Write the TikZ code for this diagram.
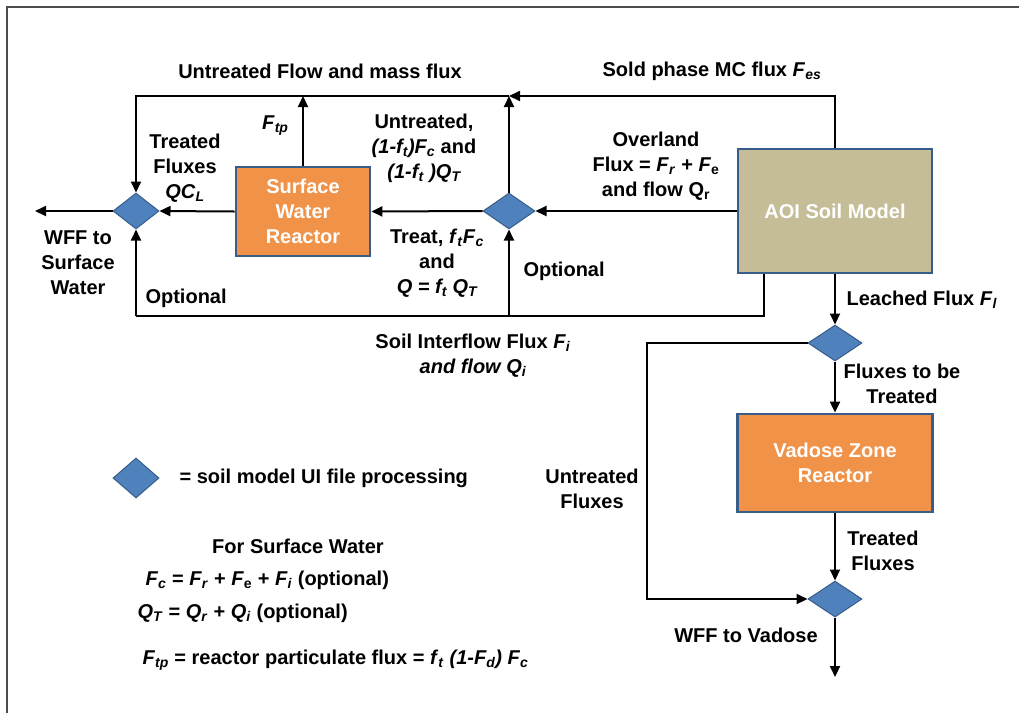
\documentclass[tikz,border=0pt]{standalone}
\usepackage{fontspec}
\setmainfont{Liberation Sans}
\usepackage{xcolor}
\usetikzlibrary{arrows.meta,shapes.geometric,calc}

\definecolor{reactororange}{RGB}{240,146,72}
\definecolor{soiltan}{RGB}{196,189,151}
\definecolor{gateblue}{RGB}{79,129,189}
\definecolor{edgeblue}{RGB}{56,93,138}
\newcommand{\sym}[2]{\textit{#1}\textsubscript{\textit{#2}}}

\begin{document}
\begin{tikzpicture}[x=1pt,y=-1pt,>={Triangle[length=11pt,width=10pt]},
  every node/.style={font=\fontsize{20}{25}\selectfont\bfseries},
  flow/.style={line width=2pt,->},
  pipe/.style={line width=2pt},
  gate/.style={diamond,draw=edgeblue,fill=gateblue,line width=1pt,
    minimum width=46pt,minimum height=36pt,inner sep=0pt},
  reactor/.style={rectangle,draw=edgeblue,fill=reactororange,line width=2.8pt,
    text=white,align=center},
  lbl/.style={align=center}]
  \useasboundingbox (0,0) rectangle (1019,713);
  \draw[gray!60!black,line width=1.5pt] (7,713) -- (7,7) -- (1019,7);

  \node[reactor,minimum width=134pt,minimum height=89pt] (swr) at (303,211.5)
    {Surface\\Water\\Reactor};
  \node[reactor,fill=soiltan,minimum width=194pt,minimum height=124pt] (aoi)
    at (835,211) {AOI Soil Model};
  \node[reactor,minimum width=195pt,minimum height=98pt] (vzr) at (835,463)
    {Vadose Zone\\Reactor};
  \node[gate] (gsw) at (136,211) {};
  \node[gate,minimum width=52pt] (gsplit) at (509,211) {};
  \node[gate,minimum width=54pt] (gleach) at (835,343) {};
  \node[gate,minimum width=54pt] (gvad) at (835,599) {};
  \node[gate,minimum height=40pt] (gkey) at (136,478) {};

  \coordinate (topline) at (0,96);
  \coordinate (botline) at (0,316);
  \coordinate (bypass) at (647,0);
  \coordinate (interflow) at ([xshift=27pt]aoi.south west);
  \coordinate (wffsw) at (35,211);
  \coordinate (wffvad) at (835,677);

  \draw[flow] (aoi.north) -- (aoi.north |- topline) -- (gsplit.north |- topline);
  \draw[flow] (gsplit.north) -- (gsplit.north |- topline);
  \draw[flow] (gsplit.north |- topline) -- (gsw.north |- topline) -- (gsw.north);
  \draw[flow] (swr.north) -- (swr.north |- topline);
  \draw[flow] (aoi.west) -- (gsplit.east);
  \draw[flow] (gsplit.west) -- (swr.east);
  \draw[flow] (swr.west) -- (gsw.east);
  \draw[flow] (gsw.west) -- (wffsw);
  \draw[pipe] (interflow) -- (interflow |- botline) -- (gsw.south |- botline);
  \draw[flow] (gsw.south |- botline) -- (gsw.south);
  \draw[flow] (gsplit.south |- botline) -- (gsplit.south);
  \draw[flow] (aoi.south) -- (gleach.north);
  \draw[flow] (gleach.south) -- (vzr.north);
  \draw[flow] (vzr.south) -- (gvad.north);
  \draw[flow] (gleach.west) -- (bypass |- gleach.west) -- (bypass |- gvad.west)
    -- (gvad.west);
  \draw[flow] (gvad.south) -- (wffvad);

  \node[lbl] (untrflow) at (320,71) {Untreated Flow and mass flux};
  \node[lbl] (solidflux) at (712,71) {Sold phase MC flux \sym{F}{es}};
  \node[anchor=east] (ftp) at (292,126) {\sym{F}{tp}};
  \node[lbl] (treatql) at (185,168) {Treated\\Fluxes\\\sym{QC}{L}};
  \node[lbl] (untrsplit) at (424,148)
    {Untreated,\\\textit{(1-\sym{f}{t})\sym{F}{c}} and\\\textit{(1-\sym{f}{t} )\sym{Q}{T}}};
  \node[lbl] (treatsplit) at (437,263)
    {Treat, \sym{f}{t}\sym{F}{c}\\and\\\textit{Q = \sym{f}{t} \sym{Q}{T}}};
  \node[lbl] (wffsurf) at (78,263) {WFF to\\Surface\\Water};
  \node[anchor=west] (optleft) at (142,298) {Optional};
  \node[anchor=west] (optright) at (520,271) {Optional};
  \node[lbl] (overland) at (656,166)
    {Overland\\Flux = \sym{F}{r} + \textit{F}\textsubscript{e}\\and flow Q\textsubscript{r}};
  \node[anchor=west] (leached) at (843,300) {Leached Flux \sym{F}{l}};
  \node[lbl] (interlbl) at (473,356)
    {Soil Interflow Flux \sym{F}{i}\\\textit{and flow Q\textsubscript{i}}};
  \node[lbl] (totreat) at (902,384) {Fluxes to be\\Treated};
  \node[lbl] (untrvad) at (592,489) {Untreated\\Fluxes};
  \node[lbl] (treatvad) at (883,551) {Treated\\Fluxes};
  \node[lbl] (wffvadlbl) at (746,635) {WFF to Vadose};
  \node[anchor=west] (keytext) at (176,478) {= soil model UI file processing};
  \node[lbl] (swhead) at (298,546) {For Surface Water};
  \node[anchor=west] (fceq) at (142,580)
    {\sym{F}{c} = \sym{F}{r} + \textit{F}\textsubscript{e} + \sym{F}{i} (optional)};
  \node[anchor=west] (qteq) at (134,613)
    {\sym{Q}{T} = \sym{Q}{r} + \sym{Q}{i} (optional)};
  \node[anchor=west] (ftpeq) at (139,660)
    {\sym{F}{tp} = reactor particulate flux = \sym{f}{t} \textit{(1-\sym{F}{d})} \sym{F}{c}};
\end{tikzpicture}
\end{document}
